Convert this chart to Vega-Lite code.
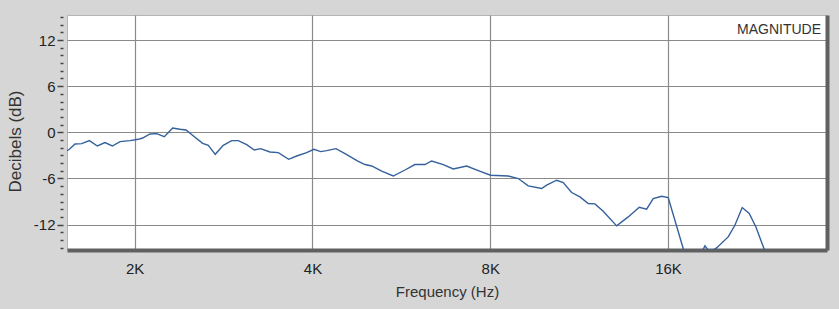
{
  "$schema": "https://vega.github.io/schema/vega-lite/v6.json",
  "width": 760,
  "height": 235,
  "autosize": {"type": "none"},
  "padding": {"left": 67, "top": 15, "right": 12, "bottom": 59},
  "background": "#d6d6d6",
  "config": {
    "view": {"fill": "white", "stroke": "#b4b4b4", "strokeWidth": 1},
    "font": "Liberation Sans"
  },
  "title": {
    "text": "MAGNITUDE",
    "anchor": "end",
    "orient": "top",
    "fontSize": 14,
    "fontWeight": "normal",
    "color": "#333333",
    "font": "Liberation Sans",
    "dx": -6,
    "dy": 26
  },
  "data": {
    "values": [
      {"freq": 1536, "db": -2.4},
      {"freq": 1550, "db": -2.21},
      {"freq": 1585, "db": -1.52},
      {"freq": 1627, "db": -1.47},
      {"freq": 1676, "db": -1.08},
      {"freq": 1729, "db": -1.78},
      {"freq": 1781, "db": -1.34},
      {"freq": 1833, "db": -1.78},
      {"freq": 1889, "db": -1.21},
      {"freq": 1964, "db": -1.08},
      {"freq": 2028, "db": -0.91},
      {"freq": 2063, "db": -0.74},
      {"freq": 2123, "db": -0.22},
      {"freq": 2179, "db": -0.17},
      {"freq": 2245, "db": -0.56},
      {"freq": 2319, "db": 0.56},
      {"freq": 2386, "db": 0.39},
      {"freq": 2443, "db": 0.3},
      {"freq": 2530, "db": -0.65},
      {"freq": 2607, "db": -1.43},
      {"freq": 2665, "db": -1.69},
      {"freq": 2738, "db": -2.86},
      {"freq": 2825, "db": -1.69},
      {"freq": 2919, "db": -1.08},
      {"freq": 2995, "db": -1.08},
      {"freq": 3095, "db": -1.6},
      {"freq": 3188, "db": -2.3},
      {"freq": 3269, "db": -2.12},
      {"freq": 3389, "db": -2.56},
      {"freq": 3501, "db": -2.64},
      {"freq": 3646, "db": -3.51},
      {"freq": 3761, "db": -3.08},
      {"freq": 3910, "db": -2.64},
      {"freq": 4023, "db": -2.21},
      {"freq": 4130, "db": -2.51},
      {"freq": 4228, "db": -2.38},
      {"freq": 4384, "db": -2.12},
      {"freq": 4541, "db": -2.77},
      {"freq": 4782, "db": -3.77},
      {"freq": 4909, "db": -4.19},
      {"freq": 5039, "db": -4.38},
      {"freq": 5239, "db": -5.06},
      {"freq": 5481, "db": -5.68},
      {"freq": 5737, "db": -4.9},
      {"freq": 5965, "db": -4.19},
      {"freq": 6202, "db": -4.19},
      {"freq": 6366, "db": -3.73},
      {"freq": 6661, "db": -4.19},
      {"freq": 6925, "db": -4.77},
      {"freq": 7297, "db": -4.38},
      {"freq": 7635, "db": -4.97},
      {"freq": 8012, "db": -5.58},
      {"freq": 8581, "db": -5.68},
      {"freq": 8923, "db": -6.01},
      {"freq": 9277, "db": -6.97},
      {"freq": 9775, "db": -7.31},
      {"freq": 9968, "db": -6.88},
      {"freq": 10364, "db": -6.23},
      {"freq": 10634, "db": -6.53},
      {"freq": 10988, "db": -7.83},
      {"freq": 11350, "db": -8.4},
      {"freq": 11723, "db": -9.26},
      {"freq": 12033, "db": -9.31},
      {"freq": 12428, "db": -10.26},
      {"freq": 13096, "db": -12.17},
      {"freq": 13701, "db": -11.0},
      {"freq": 14302, "db": -9.74},
      {"freq": 14719, "db": -10.0},
      {"freq": 15104, "db": -8.61},
      {"freq": 15606, "db": -8.31},
      {"freq": 16012, "db": -8.48},
      {"freq": 16977, "db": -15.1},
      {"freq": 17558, "db": -18.6},
      {"freq": 18119, "db": -16.1},
      {"freq": 18476, "db": -14.77},
      {"freq": 18838, "db": -15.6},
      {"freq": 19336, "db": -15.03},
      {"freq": 20232, "db": -13.6},
      {"freq": 20768, "db": -12.08},
      {"freq": 21368, "db": -9.78},
      {"freq": 21960, "db": -10.56},
      {"freq": 22542, "db": -12.3},
      {"freq": 23256, "db": -15.1},
      {"freq": 23620, "db": -16.9}
    ]
  },
  "layer": [
    {
      "mark": {"type": "line", "clip": true, "color": "#34609c", "strokeWidth": 1.4},
      "encoding": {
        "x": {
          "field": "freq",
          "type": "quantitative",
          "scale": {"type": "log", "base": 2, "domain": [1536, 29740], "nice": false},
          "axis": {
            "values": [2000, 4000, 8000, 16000],
            "labelExpr": "datum.value / 1000 + 'K'",
            "grid": true,
            "gridColor": "#8a8a8a",
            "gridWidth": 1.2,
            "ticks": false,
            "domainColor": "#606060",
            "domainWidth": 4,
            "labelPadding": 11,
            "labelFontSize": 15,
            "labelColor": "#222222",
            "labelFont": "Liberation Sans",
            "title": "Frequency (Hz)",
            "titleFont": "Liberation Sans",
            "titleFontSize": 15,
            "titleFontWeight": "normal",
            "titleColor": "#333333",
            "titlePadding": 8
          }
        },
        "y": {
          "field": "db",
          "type": "quantitative",
          "scale": {"domain": [-15.3, 15.25], "nice": false, "zero": false},
          "axis": {
            "orient": "left",
            "values": [-15, -14, -13, -12, -11, -10, -9, -8, -7, -6, -5, -4, -3, -2, -1, 0, 1, 2, 3, 4, 5, 6, 7, 8, 9, 10, 11, 12, 13, 14, 15],
            "labelExpr": "datum.value % 6 === 0 ? '' + datum.value : ''",
            "grid": false,
            "domain": false,
            "offset": 4,
            "tickColor": "#444444",
            "tickWidth": 1.5,
            "tickSize": {"condition": {"test": "datum.value % 6 === 0", "value": 6}, "value": 3},
            "labelPadding": 2,
            "labelFontSize": 15,
            "labelColor": "#222222",
            "labelFont": "Liberation Sans",
            "title": "Decibels (dB)",
            "titleFont": "Liberation Sans",
            "titleFontSize": 17,
            "titleFontWeight": "normal",
            "titleColor": "#333333",
            "titlePadding": 9,
            "titleY": 126
          }
        }
      }
    },
    {
      "mark": {"type": "line", "clip": true, "opacity": 0},
      "encoding": {
        "x": {"field": "freq", "type": "quantitative"},
        "y": {
          "field": "db",
          "type": "quantitative",
          "axis": {
            "orient": "right",
            "values": [-12, -6, 0, 6, 12],
            "grid": true,
            "gridColor": "#8a8a8a",
            "gridWidth": 1.2,
            "labels": false,
            "ticks": false,
            "domainColor": "#606060",
            "domainWidth": 4,
            "title": null
          }
        }
      }
    }
  ],
  "resolve": {"axis": {"y": "independent"}}
}
